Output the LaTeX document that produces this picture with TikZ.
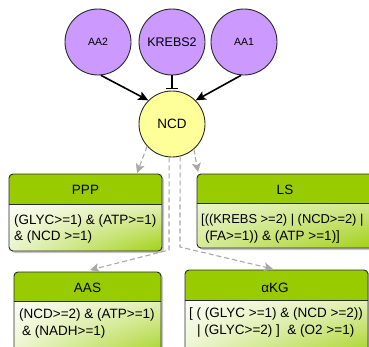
\documentclass[tikz,border=0pt]{standalone}
\usepackage{fontspec}
\setmainfont{Liberation Sans}
\usetikzlibrary{arrows.meta,shadings}
\definecolor{purp}{HTML}{CC99FF}
\definecolor{ylw}{HTML}{FFFF99}
\definecolor{grn}{HTML}{99CC00}
\definecolor{dgray}{HTML}{A8A8A8}
\definecolor{bord}{HTML}{2A2A2A}
\tikzset{
  circ/.style={circle, draw=bord, line width=0.9pt, minimum size=66pt, inner sep=0pt},
  act/.style={line width=1.6pt, -{Stealth[length=10pt,width=9pt,inset=2pt]}},
  inh/.style={line width=1.2pt, -{Bar[width=12pt,line width=1.2pt]}, shorten >=1.5pt},
  dasharrow/.style={dgray, line width=1.1pt, dash pattern=on 5pt off 3pt, -{Stealth[length=9pt,width=9pt,inset=2pt,fill=dgray]}},
  boxborder/.style={draw=bord, line width=0.9pt},
  hdr/.style={anchor=base, inner sep=0pt, font=\fontsize{13.5}{16}\selectfont},
  txt/.style={anchor=base west, inner sep=0pt, font=\fontsize{13.5}{16}\selectfont}
}
\newcommand\umlbox[5]{%
  \fill[black, opacity=0.22, rounded corners=4pt] ({#1+2},{#2+2}) rectangle ({#3+2},{#4+2});
  \begin{scope}
    \clip[rounded corners=4pt] (#1,#2) rectangle (#3,#4);
    \fill[grn] (#1,#2) rectangle (#3,#5);
    \shade[upper left=white!96!grn, upper right=white!72!grn, lower left=white!80!grn, lower right=grn!92!white] (#1,#5) rectangle (#3,#4);
  \end{scope}
  \draw[boxborder, rounded corners=4pt] (#1,#2) rectangle (#3,#4);
  \draw[boxborder] (#1,#5) -- (#3,#5);
}
\begin{document}
\begin{tikzpicture}[x=1pt,y=-1pt]
\useasboundingbox (0,0) rectangle (369,346);
\clip (0,0) rectangle (369,346);

% boxes
\umlbox{9}{174}{162}{251}{204}
\begin{scope}
  \fill[black, opacity=0.22, rounded corners=4pt] (199,176) rectangle (375,250);
  \clip[rounded corners=4pt] (197,174) rectangle (373,248);
  \fill[grn] (197,174) rectangle (373,203);
  \shade[upper left=white!80!grn, upper right=white!55!grn, lower left=white!60!grn, lower right=grn!92!white] (197,203) rectangle (373,248);
\end{scope}
\draw[boxborder, rounded corners=4pt] (197,174) rectangle (373,248);
\draw[boxborder] (197,203) -- (373,203);
\umlbox{14}{272}{161}{360}{301}
\umlbox{185}{270}{368}{360}{300}

\node[hdr] (ppp) at (85.5,194) {PPP};
\node[txt] (ppp1) at (14,224) {(GLYC>=1) \& (ATP>=1)};
\node[txt] (ppp2) at (14,240) {\& (NCD >=1)};

\node[hdr] (ls) at (285,194) {LS};
\node[txt, font=\fontsize{12.9}{16}\selectfont] (ls1) at (201,223) {[((KREBS >=2) | (NCD>=2) |};
\node[txt] (ls2) at (205,240) {(FA>=1)) \& (ATP >=1)]};

\node[hdr] (aas) at (87.5,292) {AAS};
\node[txt] (aas1) at (19,318) {(NCD>=2) \& (ATP>=1)};
\node[txt] (aas2) at (22,335) {\& (NADH>=1)};

\node[hdr] (akg) at (275,292) {αKG};
\node[txt] (akg1) at (189,317) {[ ( (GLYC >=1) \& (NCD >=2))};
\node[txt] (akg2) at (197,334) {| (GLYC>=2) ]\ \ \& (O2 >=1)};

% circles
\node[circ, fill=purp, font=\fontsize{10.5}{12}\selectfont] (aa2) at (98,42) {AA2};
\node[circ, fill=purp, font=\fontsize{12.5}{14}\selectfont] (krebs2) at (172,42) {KREBS2};
\node[circ, fill=purp, font=\fontsize{10.5}{12}\selectfont] (aa1) at (244,42) {AA1};
\node[circ, fill=ylw, font=\fontsize{13.5}{15}\selectfont] (ncd) at (172,124) {NCD};

% regulatory edges
\draw[act] (aa2.-85) -- (ncd.135);
\draw[act] (aa1.-95) -- (ncd.45);
\draw[inh] (krebs2.south) -- (ncd.north);

% dashed edges
\coordinate (pppin) at (137,173);
\coordinate (lsin) at (198,172);
\coordinate (aasbend) at (169,250);
\coordinate (aasin) at (90,270);
\coordinate (akgbend) at (180,247);
\coordinate (akgin) at (273,269);
\draw[dasharrow] (ncd.222) -- (pppin);
\draw[dasharrow] (ncd.-49) -- (lsin);
\draw[dasharrow] (ncd.-95) -- (aasbend) -- (aasin);
\draw[dasharrow] (ncd.-76) -- (akgbend) -- (akgin);
\end{tikzpicture}
\end{document}
